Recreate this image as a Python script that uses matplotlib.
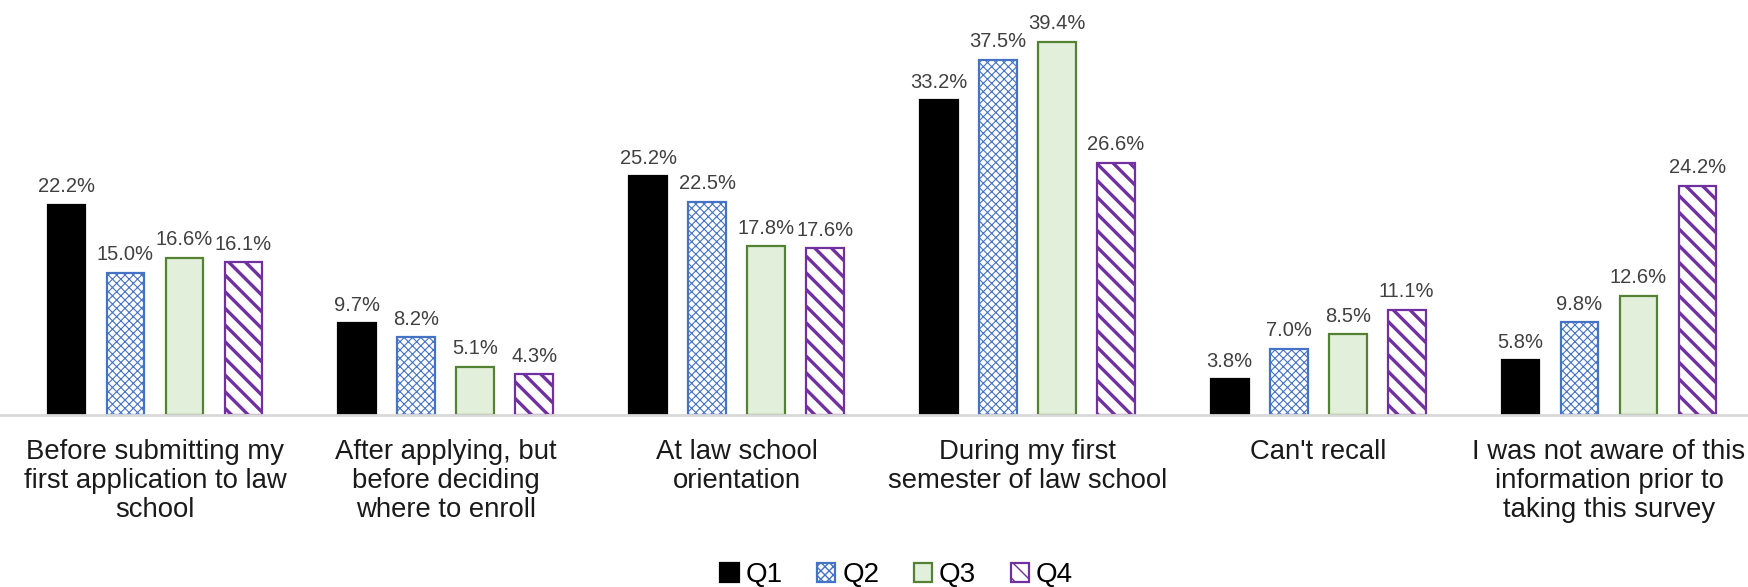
import matplotlib
matplotlib.use("Agg")
import matplotlib.pyplot as plt
import numpy as np

plt.rcParams['font.family'] = ['Liberation Sans', 'DejaVu Sans']

categories = ["Before submitting my\nfirst application to law\nschool",
              "After applying, but\nbefore deciding\nwhere to enroll",
              "At law school\norientation",
              "During my first\nsemester of law school",
              "Can't recall",
              "I was not aware of this\ninformation prior to\ntaking this survey"]
series = ["Q1", "Q2", "Q3", "Q4"]
q1 = [22.2, 9.7, 25.2, 33.2, 3.8, 5.8]
q2 = [15.0, 8.2, 22.5, 37.5, 7.0, 9.8]
q3 = [16.6, 5.1, 17.8, 39.4, 8.5, 12.6]
q4 = [16.1, 4.3, 17.6, 26.6, 11.1, 24.2]

styles = [
    dict(facecolor="black", edgecolor="black", hatch=None, hlw=1.0),
    dict(facecolor="white", edgecolor="#4472C4", hatch="xxxx", hlw=0.8),
    dict(facecolor="#E2EFDA", edgecolor="#548235", hatch=None, hlw=1.0),
    dict(facecolor="white", edgecolor="#7030A0", hatch="\\\\", hlw=2.4),
]

fig = plt.figure(figsize=(17.48, 5.87), dpi=100)
ax = fig.add_axes([0, 0.293, 1, 0.707])

x = np.arange(len(categories))
step = 0.203
width = 0.13
handles = []
for i, (vals, st) in enumerate(zip([q1, q2, q3, q4], styles)):
    pos = x + (i - 1.5) * step
    bars = ax.bar(pos, vals, width, facecolor=st["facecolor"],
                  edgecolor=st["edgecolor"], linewidth=1.6, hatch=st["hatch"],
                  label=series[i])
    for b in bars:
        if hasattr(b, "set_hatch_linewidth"):
            b.set_hatch_linewidth(st["hlw"])
    handles.append(bars)
    for p, v in zip(pos, vals):
        ax.annotate(f"{v:.1f}%", (p, v), xytext=(0, 9), textcoords="offset points",
                    ha="center", va="baseline", fontsize=14.5, color="#404040",
                    annotation_clip=False)

ax.set_xlim(-0.533, 5.478)
ax.set_ylim(0, 43.8)
ax.set_xticks(x)
ax.set_xticklabels(categories, fontsize=19.8, color="#1a1a1a", linespacing=1.15)
ax.tick_params(axis="x", length=0, pad=17)
ax.set_yticks([])
for s in ["top", "left", "right"]:
    ax.spines[s].set_visible(False)
ax.spines["bottom"].set_color("#D9D9D9")
ax.spines["bottom"].set_linewidth(2)

leg = fig.legend(handles=handles, labels=series, loc="lower center",
                 bbox_to_anchor=(0.513, -0.028), ncol=4, frameon=False,
                 fontsize=20, handlelength=0.65, handleheight=0.65,
                 handletextpad=0.25, columnspacing=1.25, borderpad=0.05)

fig.savefig("out.png", dpi=100)
